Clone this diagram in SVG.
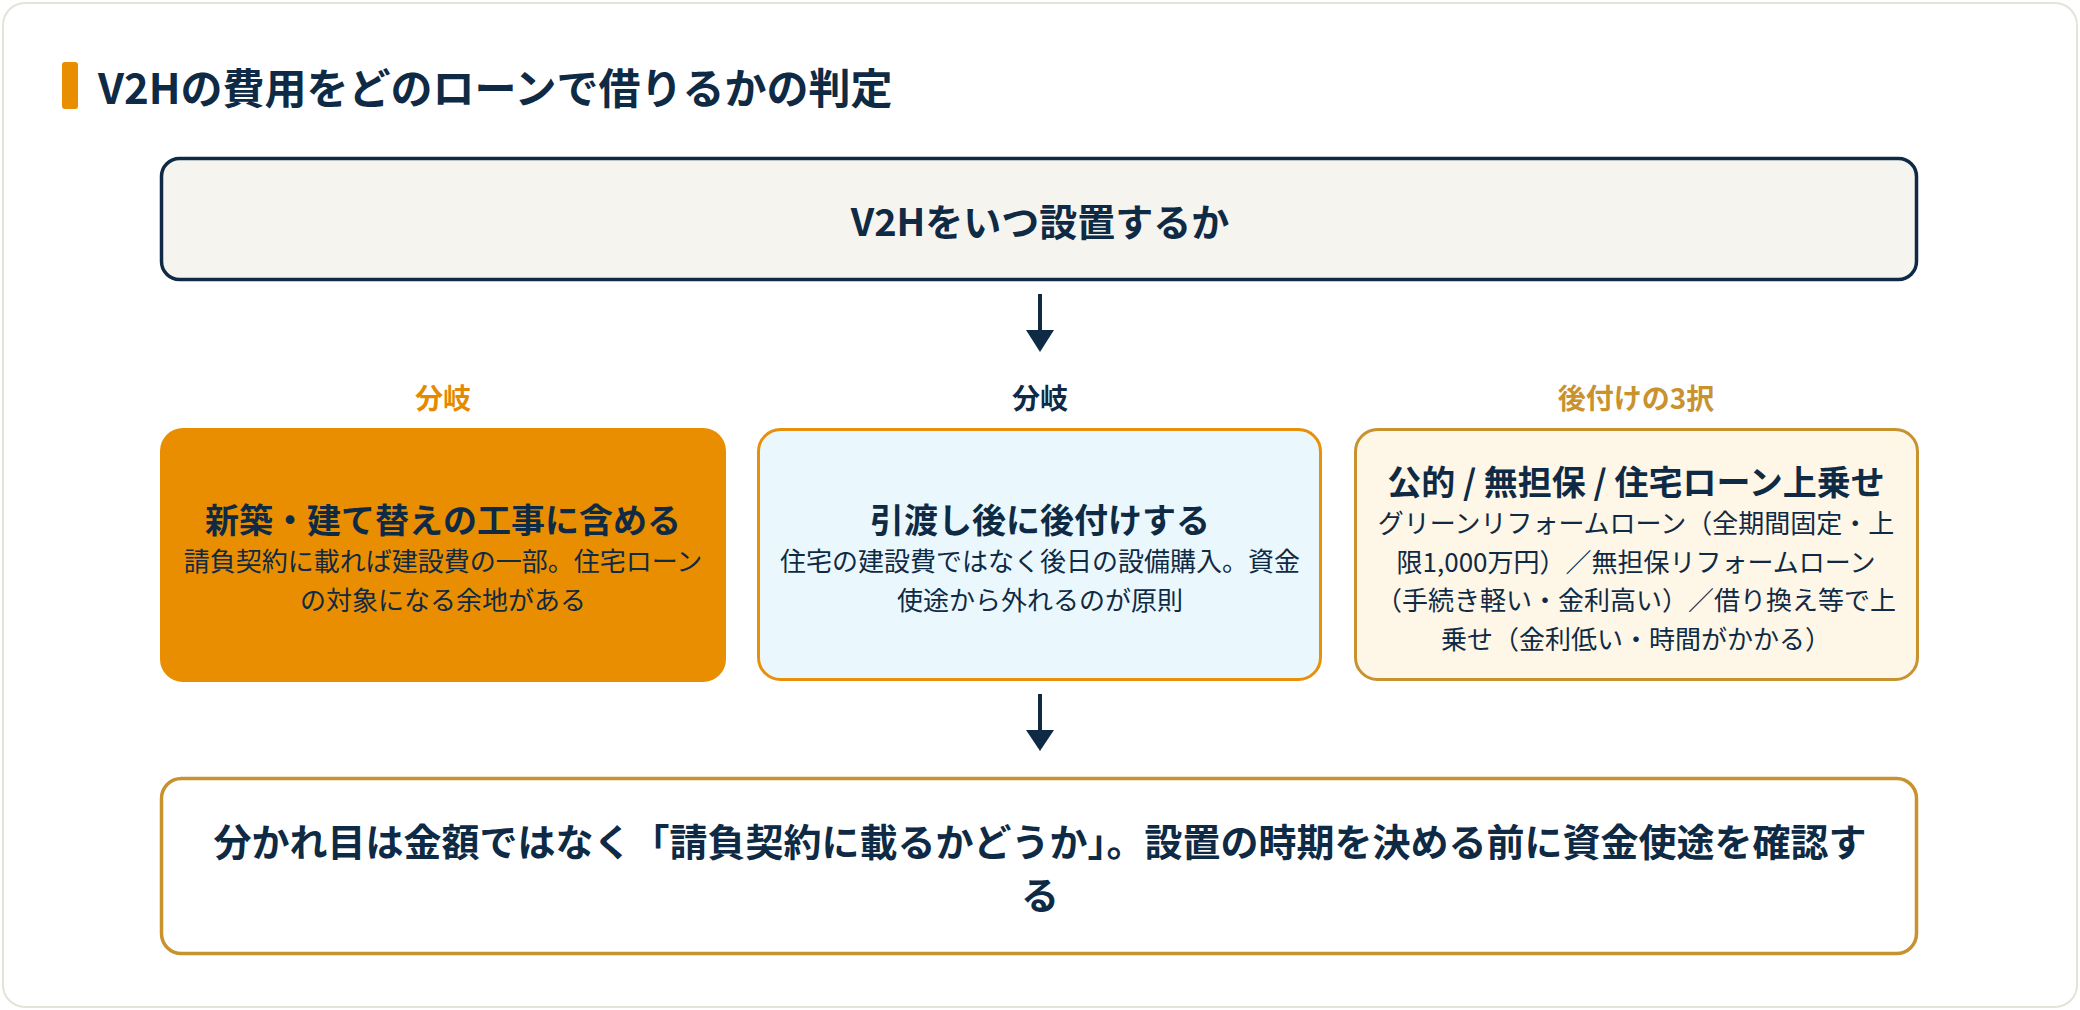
<svg xmlns="http://www.w3.org/2000/svg" width="2080" height="1010" viewBox="0 0 2080 1010">
  <defs>
    <style>
      text { font-family: "Noto Sans CJK JP", "Noto Sans", sans-serif; fill: #0f2a44; }
      .h { font-weight: 700; }
      .t { font-size: 34px; font-weight: 700; text-anchor: middle; }
      .b { font-size: 26px; font-weight: 400; text-anchor: middle; }
      .lab { font-size: 28px; font-weight: 700; text-anchor: middle; }
      .conn line { stroke: #0f2a44; stroke-width: 4; }
      .conn path { fill: #0f2a44; }
    </style>
  </defs>

  <rect x="0" y="0" width="2080" height="1010" fill="#ffffff"/>
  <rect id="frame" x="3" y="3" width="2074" height="1004" rx="22" fill="#ffffff" stroke="#e5e2d8" stroke-width="2"/>

  <g id="title">
    <rect x="62" y="62" width="16" height="47" rx="3" fill="#e88e00"/>
    <text class="h" x="98" y="104" font-size="42">V2Hの費用をどのローンで借りるかの判定</text>
  </g>

  <g id="node-start">
    <rect x="161.5" y="158.5" width="1755" height="121" rx="18" fill="#f6f4ef" stroke="#0f2a44" stroke-width="3.5"/>
    <text class="h" x="1040" y="236" font-size="38" text-anchor="middle">V2Hをいつ設置するか</text>
  </g>

  <g id="connectors" class="conn">
    <line x1="1040" y1="294" x2="1040" y2="332"/>
    <path d="M1026,330 L1054,330 L1040,352 Z"/>
    <line x1="1040" y1="694" x2="1040" y2="732"/>
    <path d="M1026,730 L1054,730 L1040,751 Z"/>
  </g>

  <g id="node-newbuild">
    <text class="lab" x="443" y="409" style="fill:#e58a00">分岐</text>
    <rect x="161" y="429" width="564" height="252" rx="22" fill="#e88e00" stroke="#e88e00" stroke-width="2"/>
    <text class="t" x="443" y="533">新築・建て替えの工事に含める</text>
    <text class="b" x="443" y="571">請負契約に載れば建設費の一部。住宅ローン</text>
    <text class="b" x="443" y="609.5">の対象になる余地がある</text>
  </g>

  <g id="node-retrofit">
    <text class="lab" x="1040" y="409">分岐</text>
    <rect x="758.5" y="429.5" width="562" height="250" rx="22" fill="#eaf8fd" stroke="#e8900a" stroke-width="3"/>
    <text class="t" x="1040" y="533">引渡し後に後付けする</text>
    <text class="b" x="1040" y="571">住宅の建設費ではなく後日の設備購入。資金</text>
    <text class="b" x="1040" y="609.5">使途から外れるのが原則</text>
  </g>

  <g id="node-options">
    <text class="lab" x="1636" y="409" style="fill:#c8922f">後付けの3択</text>
    <rect x="1355.5" y="429.5" width="562" height="250" rx="22" fill="#fef6e7" stroke="#c8922f" stroke-width="3"/>
    <text class="t" x="1636" y="495">公的 / 無担保 / 住宅ローン上乗せ</text>
    <text class="b" x="1636" y="533">グリーンリフォームローン（全期間固定・上</text>
    <text class="b" x="1636" y="571.5">限1,000万円）／無担保リフォームローン</text>
    <text class="b" x="1636" y="610">（手続き軽い・金利高い）／借り換え等で上</text>
    <text class="b" x="1636" y="648.5">乗せ（金利低い・時間がかかる）</text>
  </g>

  <g id="node-conclusion">
    <rect x="161.5" y="778.5" width="1755" height="175" rx="20" fill="#ffffff" stroke="#c8922f" stroke-width="3.5"/>
    <text class="h" x="1040" y="856" font-size="38" text-anchor="middle">分かれ目は金額ではなく「請負契約に載るかどうか」。設置の時期を決める前に資金使途を確認す</text>
    <text class="h" x="1040" y="909" font-size="38" text-anchor="middle">る</text>
  </g>
</svg>
